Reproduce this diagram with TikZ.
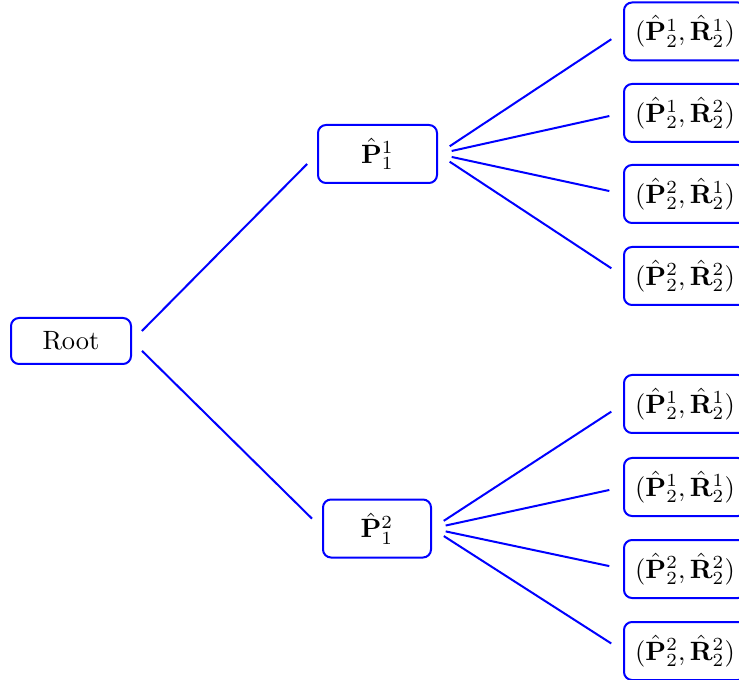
\documentclass[tikz,border=0pt]{standalone}
\usepackage{amsmath}
% one drawing unit, used for positions and box sizes
\def\pxu{0.378pt}
\begin{document}
\begin{tikzpicture}[x=\pxu, y=-\pxu,
  box/.style={draw=blue, line width=2*\pxu, rounded corners=8*\pxu, inner sep=0pt, align=center},
  rootbox/.style={box, minimum width=120*\pxu, minimum height=46*\pxu},
  midbox/.style={box, minimum height=58*\pxu},
  leafbox/.style={box, minimum width=122*\pxu, minimum height=58*\pxu},
  branch/.style={draw=blue, line width=2*\pxu, shorten <=14*\pxu, shorten >=14*\pxu}]
  \useasboundingbox (0,0) rectangle (739,680);

  % root and first-level nodes
  \node[rootbox] (root) at (71,341) {Root};
  \node[midbox, minimum width=119*\pxu] (p1) at (377.5,154) {$\hat{\mathbf{P}}_1^1$};
  \node[midbox, minimum width=108*\pxu] (p2) at (377,528.5) {$\hat{\mathbf{P}}_1^2$};

  % leaves under the first branch
  \node[leafbox] (a1) at (685,31.5) {$(\hat{\mathbf{P}}_2^1,\hat{\mathbf{R}}_2^1)$};
  \node[leafbox] (a2) at (685,113)  {$(\hat{\mathbf{P}}_2^1,\hat{\mathbf{R}}_2^2)$};
  \node[leafbox] (a3) at (685,194)  {$(\hat{\mathbf{P}}_2^2,\hat{\mathbf{R}}_2^1)$};
  \node[leafbox] (a4) at (685,276)  {$(\hat{\mathbf{P}}_2^2,\hat{\mathbf{R}}_2^2)$};

  % leaves under the second branch
  \node[leafbox] (b1) at (685,404) {$(\hat{\mathbf{P}}_2^1,\hat{\mathbf{R}}_2^1)$};
  \node[leafbox] (b2) at (685,487) {$(\hat{\mathbf{P}}_2^1,\hat{\mathbf{R}}_2^1)$};
  \node[leafbox] (b3) at (685,569) {$(\hat{\mathbf{P}}_2^2,\hat{\mathbf{R}}_2^2)$};
  \node[leafbox] (b4) at (685,651) {$(\hat{\mathbf{P}}_2^2,\hat{\mathbf{R}}_2^2)$};

  % connectors
  \path[branch] (root.east) -- (p1.west);
  \path[branch] (root.east) -- (p2.west);
  \foreach \c in {a1,a2,a3,a4} \path[branch] (p1.east) -- (\c.west);
  \foreach \c in {b1,b2,b3,b4} \path[branch] (p2.east) -- (\c.west);
\end{tikzpicture}
\end{document}
